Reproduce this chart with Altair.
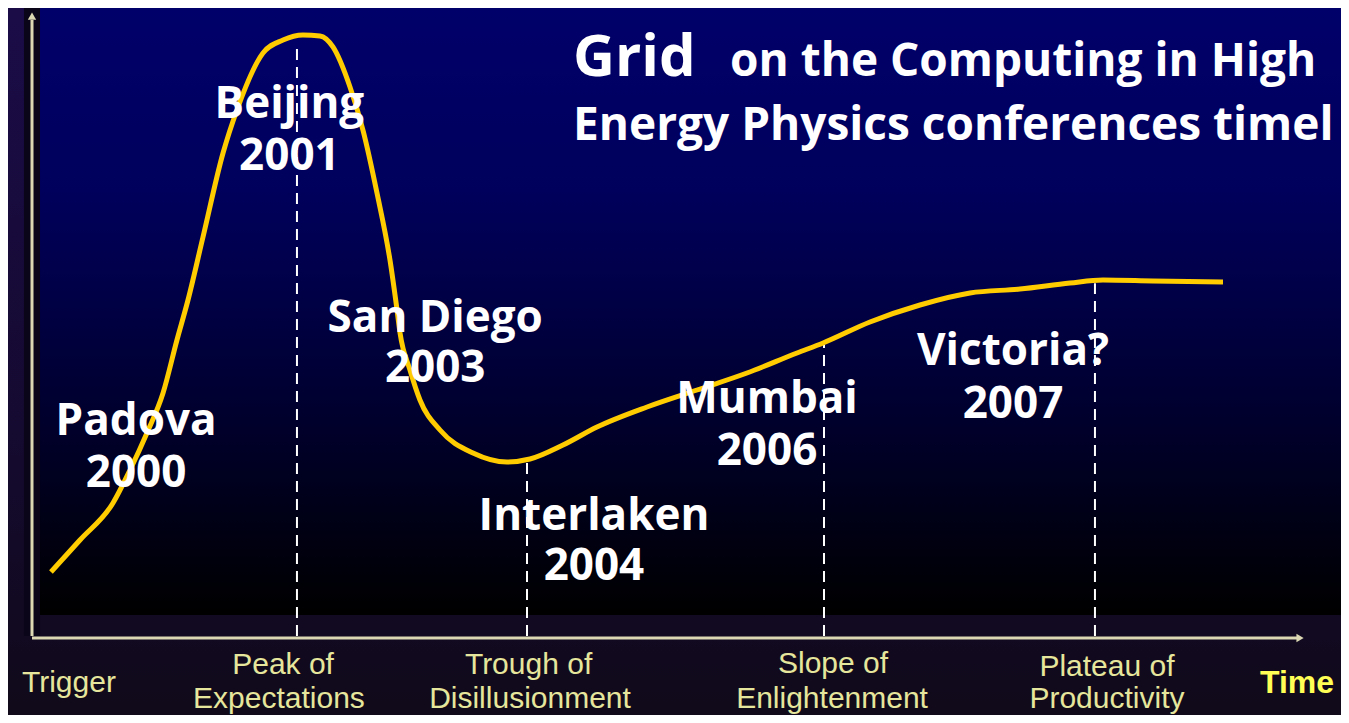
import altair as alt
import pandas as pd

# ---------------- data ----------------
# time axis units (0 = axis origin), visibility units (0 = axis)
curve_t = [1.58, 4.0, 6.75, 8.17, 9.58, 10.92, 12.08, 13.0, 14.25, 15.92, 17.08,
           19.25, 20.92, 22.58, 24.0, 25.08, 26.5, 27.58, 28.75, 29.83, 30.42,
           30.67, 31.5, 32.33, 34.0, 36.75, 39.58, 41.5, 44.25, 47.08, 51.25,
           55.42, 59.58, 63.75, 65.92, 69.83, 74.0, 78.17, 82.33, 86.5, 89.25,
           93.42, 99.25]
curve_v = [10.67, 16.0, 22.17, 27.67, 33.83, 40.5, 49.33, 56.0, 66.5, 80.5, 87.67,
           97.17, 99.33, 100.17, 100.0, 98.17, 91.5, 84.33, 73.83, 62.67, 54.33,
           50.5, 44.33, 39.33, 34.33, 30.5, 29.0, 29.5, 31.83, 34.83, 38.17,
           41.0, 43.83, 47.17, 48.83, 52.33, 55.17, 57.17, 57.83, 58.83, 59.33,
           59.17, 59.0]

conf_names = ["Padova", "Beijing", "San Diego", "Interlaken", "Mumbai", "Victoria?"]
conf_years = ["2000", "2001", "2003", "2004", "2006", "2007"]
conf_t = [8.67, 21.45, 33.6, 46.83, 61.25, 81.75]
conf_name_v = [33.5, 86.33, 50.67, 17.67, 37.17, 45.17]
conf_year_v = [24.83, 77.67, 42.33, 9.33, 28.5, 36.33]

marker_t = [22.08, 41.25, 66.0, 88.58]
marker_top = [98.5, 29.0, 48.5, 58.8]
marker_bottom = [0.0, 0.0, 0.0, 0.0]

phase_lines = ["Trigger", "Peak of", "Expectations", "Trough of", "Disillusionment",
               "Slope of", "Enlightenment", "Plateau of", "Productivity"]
phase_t = [3.08, 20.92, 20.58, 41.38, 41.5, 66.75, 66.67, 89.58, 89.58]
phase_v = [-9.33, -6.33, -12.0, -6.33, -12.0, -6.17, -12.0, -6.67, -12.0]

title_lines = ["Grid", "on the Computing in High", "Energy Physics conferences timel"]
title_t = [45.08, 58.17, 45.08]
title_v = [93.33, 93.33, 82.67]
title_size = [58, 46, 46]

axis_label = ["Time"]
axis_label_t = [105.42]
axis_label_v = [-9.5]

# ---------------- scales ----------------
XS = alt.Scale(domain=[-2, 109.0833], nice=False, zero=False)
YS = alt.Scale(domain=[-13.1667, 104.6667], nice=False, zero=False)


def X(f):
    return alt.X(f"{f}:Q", scale=XS, axis=None)


def Y(f):
    return alt.Y(f"{f}:Q", scale=YS, axis=None)


def grad(stops):
    return alt.Gradient(
        gradient="linear",
        stops=[alt.GradientStop(color=c, offset=o) for o, c in stops],
        x1=0, x2=0, y1=0, y2=1,
    )


# background (purple frame)
bg = alt.Chart(pd.DataFrame({"x0": [-2], "x1": [109.0833], "y0": [-13.1667], "y1": [104.6667]})).mark_rect(
    color=grad([(0, "#1b0c48"), (0.6, "#150a30"), (1, "#100a1a")])
).encode(x=X("x0"), x2="x1:Q", y=Y("y0"), y2="y1:Q")

# navy panel
panel = alt.Chart(pd.DataFrame({"x0": [0.667], "x1": [109.0833], "y0": [3.5], "y1": [104.6667]})).mark_rect(
    color=grad([(0, "#00006a"), (0.3, "#00005c"), (0.7, "#00002a"), (1, "#000000")])
).encode(x=X("x0"), x2="x1:Q", y=Y("y0"), y2="y1:Q")

# dark strip round the vertical axis
strip = alt.Chart(pd.DataFrame({"x0": [-0.67], "x1": [0.667], "y0": [0.0], "y1": [104.6667]})).mark_rect(
    color="#0a0518"
).encode(x=X("x0"), x2="x1:Q", y=Y("y0"), y2="y1:Q")

axis_df = pd.DataFrame({"x0": [0, 0], "x1": [0, 105.5], "y0": [0, -0.33], "y1": [102.67, -0.33]})
axes = alt.Chart(axis_df).mark_rule(color="#dcd8b4", strokeWidth=3).encode(
    x=X("x0"), x2="x1:Q", y=Y("y0"), y2="y1:Q"
)

arrow_df = pd.DataFrame({"t": [0, 105.67], "v": [103.3, -0.33], "shape": ["triangle-up", "triangle-right"]})
arrows = alt.Chart(arrow_df).mark_point(filled=True, size=70, color="#dcd8b4", opacity=1).encode(
    x=X("t"), y=Y("v"), shape=alt.Shape("shape:N", scale=None)
)

marker_df = pd.DataFrame({"t": marker_t, "top": marker_top, "bottom": marker_bottom})
markers = alt.Chart(marker_df).mark_rule(color="white", strokeWidth=2, strokeDash=[11, 7]).encode(
    x=X("t"), y=Y("bottom"), y2="top:Q"
)

curve = alt.Chart(pd.DataFrame({"t": curve_t, "v": curve_v})).mark_line(
    color="#ffcc00", strokeWidth=5, interpolate="monotone"
).encode(x=X("t"), y=Y("v"), order="t:Q")

conf_df = pd.DataFrame({
    "text": conf_names + conf_years,
    "t": conf_t + conf_t,
    "v": conf_name_v + conf_year_v,
})
conf = alt.Chart(conf_df).mark_text(
    font="Open Sans", fontWeight="bold", fontSize=44, color="white",
    align="center", baseline="alphabetic"
).encode(x=X("t"), y=Y("v"), text="text:N")

title_df = pd.DataFrame({"text": title_lines, "t": title_t, "v": title_v, "size": title_size})
title = alt.Chart(title_df).mark_text(
    font="Open Sans", fontWeight="bold", color="white", align="left", baseline="alphabetic"
).encode(x=X("t"), y=Y("v"), text="text:N", size=alt.Size("size:Q", scale=None, legend=None))

phase_df = pd.DataFrame({"text": phase_lines, "t": phase_t, "v": phase_v})
phases = alt.Chart(phase_df).mark_text(
    font="Liberation Sans Narrow, Liberation Sans, Arial, sans-serif", fontSize=30, color="#e6e69c",
    align="center", baseline="alphabetic"
).encode(x=X("t"), y=Y("v"), text="text:N")

time_df = pd.DataFrame({"text": axis_label, "t": axis_label_t, "v": axis_label_v})
time_lbl = alt.Chart(time_df).mark_text(
    font="Liberation Sans Narrow, Liberation Sans, Arial, sans-serif", fontWeight="bold",
    fontSize=32, color="#ffff55", align="center", baseline="alphabetic"
).encode(x=X("t"), y=Y("v"), text="text:N")

chart = alt.layer(
    bg, panel, strip, axes, arrows, markers, curve, conf, title, phases, time_lbl
).properties(
    width=1333, height=707, padding=0,
    autosize=alt.AutoSizeParams(type="none"),
    background="#110a1e",
).configure_view(strokeWidth=0)

chart.save("out.html", embed_options={"renderer": "svg", "actions": False})
